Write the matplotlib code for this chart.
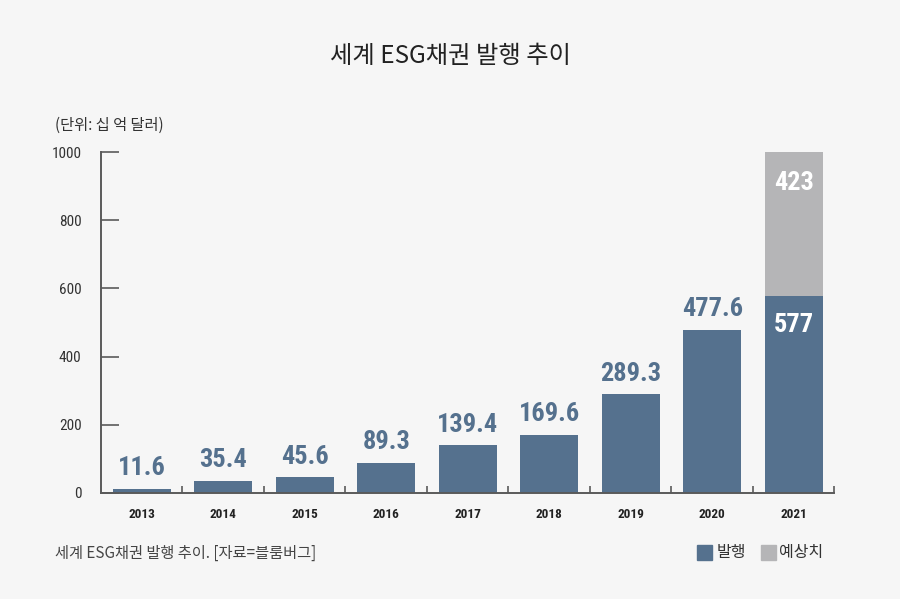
import matplotlib
matplotlib.use("Agg")
import matplotlib.pyplot as plt
from matplotlib import font_manager
from matplotlib.patches import Rectangle

plt.rcParams['font.family'] = ['Noto Sans CJK KR', 'DejaVu Sans']

# narrow font for the numbers, if one is installed
names = {f.name for f in font_manager.fontManager.ttflist}
narrow = 'DejaVu Sans'
for cand in ['Liberation Sans Narrow', 'Roboto Condensed', 'DejaVu Sans Condensed']:
    if cand in names:
        narrow = cand
        break

# data (단위: 십 억 달러)
years = ['2013', '2014', '2015', '2016', '2017', '2018', '2019', '2020', '2021']
issued = [11.6, 35.4, 45.6, 89.3, 139.4, 169.6, 289.3, 477.6, 577]
forecast = [0, 0, 0, 0, 0, 0, 0, 0, 423]
labels = ['11.6', '35.4', '45.6', '89.3', '139.4', '169.6', '289.3', '477.6', '577']
yticks = [0, 200, 400, 600, 800, 1000]

bg = '#f6f6f6'
blue = '#55718e'
gray = '#b5b5b7'
axcol = '#5a5a5a'

fig = plt.figure(figsize=(9, 5.99), dpi=100, facecolor=bg)
ax = fig.add_axes([0.1122, 0.177, 0.815, 0.569], facecolor=bg)

x = list(range(len(years)))
ax.bar(x, issued, width=0.71, color=blue, zorder=2)
ax.bar(x, forecast, width=0.71, bottom=issued, color=gray, zorder=2)

ax.set_xlim(-0.5, len(years) - 0.5)
ax.set_ylim(0, 1000)

for s in ['top', 'right']:
    ax.spines[s].set_visible(False)
for s in ['left', 'bottom']:
    ax.spines[s].set_color(axcol)
    ax.spines[s].set_linewidth(1.4)

ax.set_yticks(yticks)
ax.set_yticklabels([str(v) for v in yticks], fontsize=11, color='#333333', family=narrow)
ax.tick_params(axis='y', direction='in', length=13, width=1.2, color=axcol, pad=14)

# category ticks between bars
ax.set_xticks([i + 0.5 for i in x], minor=True)
ax.tick_params(axis='x', which='minor', direction='in', length=5, width=1.2, color=axcol)
ax.set_xticks(x)
ax.set_xticklabels(years, fontsize=9.5, fontweight='bold', color='#222222', family=narrow)
ax.tick_params(axis='x', which='major', length=0, pad=11)

for i, v in enumerate(issued):
    if forecast[i] > 0:
        ax.text(i, v - 85, labels[i], ha='center', va='center', color='white',
                fontsize=19, fontweight='bold', family=narrow)
        ax.text(i, v + forecast[i] - 90, str(forecast[i]), ha='center', va='center',
                color='white', fontsize=19, fontweight='bold', family=narrow)
    else:
        ax.text(i, v + 26, labels[i], ha='center', va='bottom', color=blue,
                fontsize=19, fontweight='bold', family=narrow)

fig.text(0.5, 0.907, '세계 ESG채권 발행 추이', ha='center', va='center',
         fontsize=17.5, fontweight='medium', color='#222222')
fig.text(0.061, 0.79, '(단위: 십 억 달러)', ha='left', va='center',
         fontsize=11, color='#333333')
fig.text(0.061, 0.077, '세계 ESG채권 발행 추이. [자료=블룸버그]', ha='left', va='center',
         fontsize=11, color='#444444')

# legend
fig.patches.append(Rectangle((0.774, 0.065), 0.0167, 0.025, transform=fig.transFigure,
                             color=blue, figure=fig))
fig.text(0.796, 0.077, '발행', ha='left', va='center', fontsize=11.5, color='#333333')
fig.patches.append(Rectangle((0.846, 0.065), 0.0167, 0.025, transform=fig.transFigure,
                             color=gray, figure=fig))
fig.text(0.866, 0.077, '예상치', ha='left', va='center', fontsize=11.5, color='#333333')

fig.savefig('out.png', dpi=100, facecolor=bg)
